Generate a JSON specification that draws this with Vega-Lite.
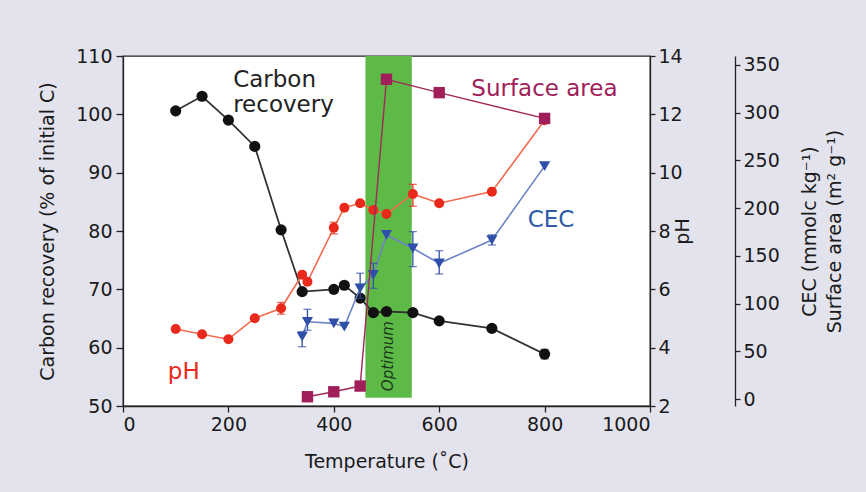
{
  "$schema": "https://vega.github.io/schema/vega-lite/v6.json",
  "width": 527,
  "height": 350,
  "autosize": "none",
  "padding": {"left": 123, "top": 56, "right": 216, "bottom": 86},
  "background": "#e3e3ee",
  "datasets": {
    "carbon": [
      {"T": 100, "v": 100.6}, {"T": 150, "v": 103.1}, {"T": 200, "v": 99.0}, {"T": 250, "v": 94.5},
      {"T": 300, "v": 80.2}, {"T": 340, "v": 69.6}, {"T": 400, "v": 70.0}, {"T": 420, "v": 70.7},
      {"T": 450, "v": 68.5}, {"T": 475, "v": 66.0}, {"T": 500, "v": 66.2}, {"T": 550, "v": 66.0},
      {"T": 600, "v": 64.6}, {"T": 700, "v": 63.3}, {"T": 800, "v": 58.9, "lo": 58.1, "hi": 59.7}
    ],
    "ph": [
      {"T": 100, "v": 4.64}, {"T": 150, "v": 4.46}, {"T": 200, "v": 4.29}, {"T": 250, "v": 5.01},
      {"T": 300, "v": 5.35, "lo": 5.15, "hi": 5.55}, {"T": 340, "v": 6.5}, {"T": 350, "v": 6.26},
      {"T": 400, "v": 8.11, "lo": 7.9, "hi": 8.3}, {"T": 420, "v": 8.8}, {"T": 450, "v": 8.95},
      {"T": 475, "v": 8.72}, {"T": 500, "v": 8.58}, {"T": 550, "v": 9.27, "lo": 8.85, "hi": 9.6},
      {"T": 600, "v": 8.95}, {"T": 700, "v": 9.35}, {"T": 800, "v": 11.8}
    ],
    "cec": [
      {"T": 340, "v": 65.3, "lo": 54.8, "hi": 70.5}, {"T": 350, "v": 81, "lo": 72, "hi": 94},
      {"T": 400, "v": 79.3}, {"T": 420, "v": 75.8}, {"T": 450, "v": 116, "lo": 105.6, "hi": 131.8},
      {"T": 475, "v": 130, "lo": 116, "hi": 142.2}, {"T": 500, "v": 171.9},
      {"T": 550, "v": 157.9, "lo": 138.7, "hi": 175.4}, {"T": 600, "v": 142.2, "lo": 131, "hi": 155.4},
      {"T": 700, "v": 166.6, "lo": 161.4, "hi": 172}, {"T": 800, "v": 244}
    ],
    "sa": [
      {"T": 350, "v": 2.4}, {"T": 400, "v": 7.6}, {"T": 450, "v": 13.6},
      {"T": 500, "v": 335}, {"T": 600, "v": 321}, {"T": 800, "v": 294}
    ]
  },
  "encoding": {
    "x": {
      "field": "T", "type": "quantitative",
      "scale": {"domain": [0, 1000], "nice": false},
      "axis": {"values": [0, 200, 400, 600, 800, 1000], "format": "d", "title": "Temperature (˚C)", "grid": false, "tickSize": 6, "labelPadding": 3, "titlePadding": 18}
    }
  },
  "layer": [
    {
      "encoding": {
        "y": {"field": "v", "type": "quantitative", "scale": {"domain": [50, 110], "nice": false, "zero": false},
              "axis": {"orient": "left", "values": [50, 60, 70, 80, 90, 100, 110], "title": "Carbon recovery (% of initial C)", "grid": false, "tickSize": 7, "labelPadding": 4, "titlePadding": 18}}
      },
      "layer": [
        {"data": {"values": [{"T": 460, "T2": 548, "v": 51.4, "v2": 110}]}, "mark": {"type": "rect", "color": "#5dba47"}, "encoding": {"x2": {"field": "T2"}, "y2": {"field": "v2"}}},
        {"data": {"name": "carbon"}, "mark": {"type": "line", "color": "#333333", "strokeWidth": 1.8}},
        {"data": {"name": "carbon"}, "transform": [{"filter": "isValid(datum.lo)"}], "mark": {"type": "rule", "color": "#111111", "strokeWidth": 1.3},
         "encoding": {"y": {"field": "lo", "type": "quantitative", "scale": {"domain": [50, 110], "nice": false, "zero": false}, "axis": {"orient": "left", "values": [50, 60, 70, 80, 90, 100, 110], "title": "Carbon recovery (% of initial C)", "grid": false, "tickSize": 7, "labelPadding": 4, "titlePadding": 18}}, "y2": {"field": "hi"}}},
        {"data": {"name": "carbon"}, "transform": [{"filter": "isValid(datum.lo)"}], "mark": {"type": "tick", "orient": "horizontal", "color": "#111111", "size": 8, "thickness": 1.3},
         "encoding": {"y": {"field": "lo", "type": "quantitative", "scale": {"domain": [50, 110], "nice": false, "zero": false}, "axis": {"orient": "left", "values": [50, 60, 70, 80, 90, 100, 110], "title": "Carbon recovery (% of initial C)", "grid": false, "tickSize": 7, "labelPadding": 4, "titlePadding": 18}}}},
        {"data": {"name": "carbon"}, "transform": [{"filter": "isValid(datum.lo)"}], "mark": {"type": "tick", "orient": "horizontal", "color": "#111111", "size": 8, "thickness": 1.3},
         "encoding": {"y": {"field": "hi", "type": "quantitative", "scale": {"domain": [50, 110], "nice": false, "zero": false}, "axis": {"orient": "left", "values": [50, 60, 70, 80, 90, 100, 110], "title": "Carbon recovery (% of initial C)", "grid": false, "tickSize": 7, "labelPadding": 4, "titlePadding": 18}}}},
        {"data": {"name": "carbon"}, "mark": {"type": "point", "shape": "circle", "filled": true, "size": 125, "color": "#111111", "opacity": 1}},
        {"data": {"values": [{"T": 209, "v": 105.9, "label": "Carbon"}, {"T": 209, "v": 101.6, "label": "recovery"}]},
         "mark": {"type": "text", "align": "left", "baseline": "middle", "fontSize": 23, "color": "#222222"}, "encoding": {"text": {"field": "label"}}}
      ]
    },
    {
      "encoding": {
        "y": {"field": "v", "type": "quantitative", "scale": {"domain": [2, 14], "nice": false, "zero": false},
              "axis": {"orient": "right", "values": [2, 4, 6, 8, 10, 12, 14], "title": "pH", "titleAngle": 270, "grid": false, "tickSize": 5, "labelPadding": 3, "titlePadding": 10}}
      },
      "layer": [
        {"data": {"name": "ph"}, "mark": {"type": "line", "color": "#f26b4f", "strokeWidth": 1.6}},
        {"data": {"name": "ph"}, "transform": [{"filter": "isValid(datum.lo)"}], "mark": {"type": "rule", "color": "#e8291c", "strokeWidth": 1.3},
         "encoding": {"y": {"field": "lo", "type": "quantitative", "scale": {"domain": [2, 14], "nice": false, "zero": false}, "axis": {"orient": "right", "values": [2, 4, 6, 8, 10, 12, 14], "title": "pH", "titleAngle": 270, "grid": false, "tickSize": 5, "labelPadding": 3, "titlePadding": 10}}, "y2": {"field": "hi"}}},
        {"data": {"name": "ph"}, "transform": [{"filter": "isValid(datum.lo)"}], "mark": {"type": "tick", "orient": "horizontal", "color": "#e8291c", "size": 8, "thickness": 1.3},
         "encoding": {"y": {"field": "lo", "type": "quantitative", "scale": {"domain": [2, 14], "nice": false, "zero": false}, "axis": {"orient": "right", "values": [2, 4, 6, 8, 10, 12, 14], "title": "pH", "titleAngle": 270, "grid": false, "tickSize": 5, "labelPadding": 3, "titlePadding": 10}}}},
        {"data": {"name": "ph"}, "transform": [{"filter": "isValid(datum.lo)"}], "mark": {"type": "tick", "orient": "horizontal", "color": "#e8291c", "size": 8, "thickness": 1.3},
         "encoding": {"y": {"field": "hi", "type": "quantitative", "scale": {"domain": [2, 14], "nice": false, "zero": false}, "axis": {"orient": "right", "values": [2, 4, 6, 8, 10, 12, 14], "title": "pH", "titleAngle": 270, "grid": false, "tickSize": 5, "labelPadding": 3, "titlePadding": 10}}}},
        {"data": {"name": "ph"}, "mark": {"type": "point", "shape": "circle", "filled": true, "size": 100, "color": "#e8291c", "opacity": 1}},
        {"data": {"values": [{"T": 85, "v": 3.18, "label": "pH"}]}, "mark": {"type": "text", "align": "left", "baseline": "middle", "fontSize": 23, "color": "#e8291c"}, "encoding": {"text": {"field": "label"}}},
        {"data": {"values": [{"T": 661, "v": 12.86, "label": "Surface area"}]}, "mark": {"type": "text", "align": "left", "baseline": "middle", "fontSize": 23, "color": "#a01e5a"}, "encoding": {"text": {"field": "label"}}},
        {"data": {"values": [{"T": 768, "v": 8.38, "label": "CEC"}]}, "mark": {"type": "text", "align": "left", "baseline": "middle", "fontSize": 23, "color": "#2f5aa8"}, "encoding": {"text": {"field": "label"}}},
        {"data": {"values": [{"T": 503, "v": 3.71, "label": "Optimum"}]}, "mark": {"type": "text", "align": "center", "baseline": "middle", "fontSize": 15, "fontStyle": "italic", "angle": 270, "color": "#1c3a1c"}, "encoding": {"text": {"field": "label"}}}
      ]
    },
    {
      "encoding": {
        "y": {"field": "v", "type": "quantitative", "scale": {"domain": [-7.3, 359.4], "nice": false, "zero": false},
              "axis": {"orient": "right", "offset": 85, "values": [0, 50, 100, 150, 200, 250, 300, 350], "title": ["CEC (mmolc kg⁻¹)", "Surface area (m² g⁻¹)"], "titleAngle": 270, "titleLineHeight": 25, "grid": false, "tickSize": 5, "labelPadding": 3, "titlePadding": 15}}
      },
      "layer": [
        {"data": {"name": "cec"}, "mark": {"type": "line", "color": "#6e82c6", "strokeWidth": 1.6}},
        {"data": {"name": "cec"}, "transform": [{"filter": "isValid(datum.lo)"}], "mark": {"type": "rule", "color": "#2f4fa8", "strokeWidth": 1.3},
         "encoding": {"y": {"field": "lo", "type": "quantitative", "scale": {"domain": [-7.3, 359.4], "nice": false, "zero": false}, "axis": {"orient": "right", "offset": 85, "values": [0, 50, 100, 150, 200, 250, 300, 350], "title": ["CEC (mmolc kg⁻¹)", "Surface area (m² g⁻¹)"], "titleAngle": 270, "titleLineHeight": 25, "grid": false, "tickSize": 5, "labelPadding": 3, "titlePadding": 15}}, "y2": {"field": "hi"}}},
        {"data": {"name": "cec"}, "transform": [{"filter": "isValid(datum.lo)"}], "mark": {"type": "tick", "orient": "horizontal", "color": "#2f4fa8", "size": 8, "thickness": 1.3},
         "encoding": {"y": {"field": "lo", "type": "quantitative", "scale": {"domain": [-7.3, 359.4], "nice": false, "zero": false}, "axis": {"orient": "right", "offset": 85, "values": [0, 50, 100, 150, 200, 250, 300, 350], "title": ["CEC (mmolc kg⁻¹)", "Surface area (m² g⁻¹)"], "titleAngle": 270, "titleLineHeight": 25, "grid": false, "tickSize": 5, "labelPadding": 3, "titlePadding": 15}}}},
        {"data": {"name": "cec"}, "transform": [{"filter": "isValid(datum.lo)"}], "mark": {"type": "tick", "orient": "horizontal", "color": "#2f4fa8", "size": 8, "thickness": 1.3},
         "encoding": {"y": {"field": "hi", "type": "quantitative", "scale": {"domain": [-7.3, 359.4], "nice": false, "zero": false}, "axis": {"orient": "right", "offset": 85, "values": [0, 50, 100, 150, 200, 250, 300, 350], "title": ["CEC (mmolc kg⁻¹)", "Surface area (m² g⁻¹)"], "titleAngle": 270, "titleLineHeight": 25, "grid": false, "tickSize": 5, "labelPadding": 3, "titlePadding": 15}}}},
        {"data": {"name": "cec"}, "mark": {"type": "point", "shape": "triangle-down", "filled": true, "size": 125, "color": "#2f4fa8", "opacity": 1}},
        {"data": {"name": "sa"}, "mark": {"type": "line", "color": "#a0285a", "strokeWidth": 1.4}},
        {"data": {"name": "sa"}, "mark": {"type": "point", "shape": "square", "filled": true, "size": 130, "color": "#a01e5a", "opacity": 1}}
      ]
    }
  ],
  "resolve": {"scale": {"y": "independent"}},
  "config": {
    "font": "DejaVu Sans",
    "view": {"stroke": "#222222", "strokeWidth": 1.3, "fill": "white"},
    "axis": {"labelFont": "DejaVu Sans", "labelFontSize": 19, "titleFont": "DejaVu Sans", "titleFontSize": 19, "titleFontWeight": "normal",
             "labelColor": "#1a1a1a", "titleColor": "#1a1a1a", "domainColor": "#222222", "tickColor": "#222222", "domainWidth": 1.3, "tickWidth": 1.3}
  }
}
